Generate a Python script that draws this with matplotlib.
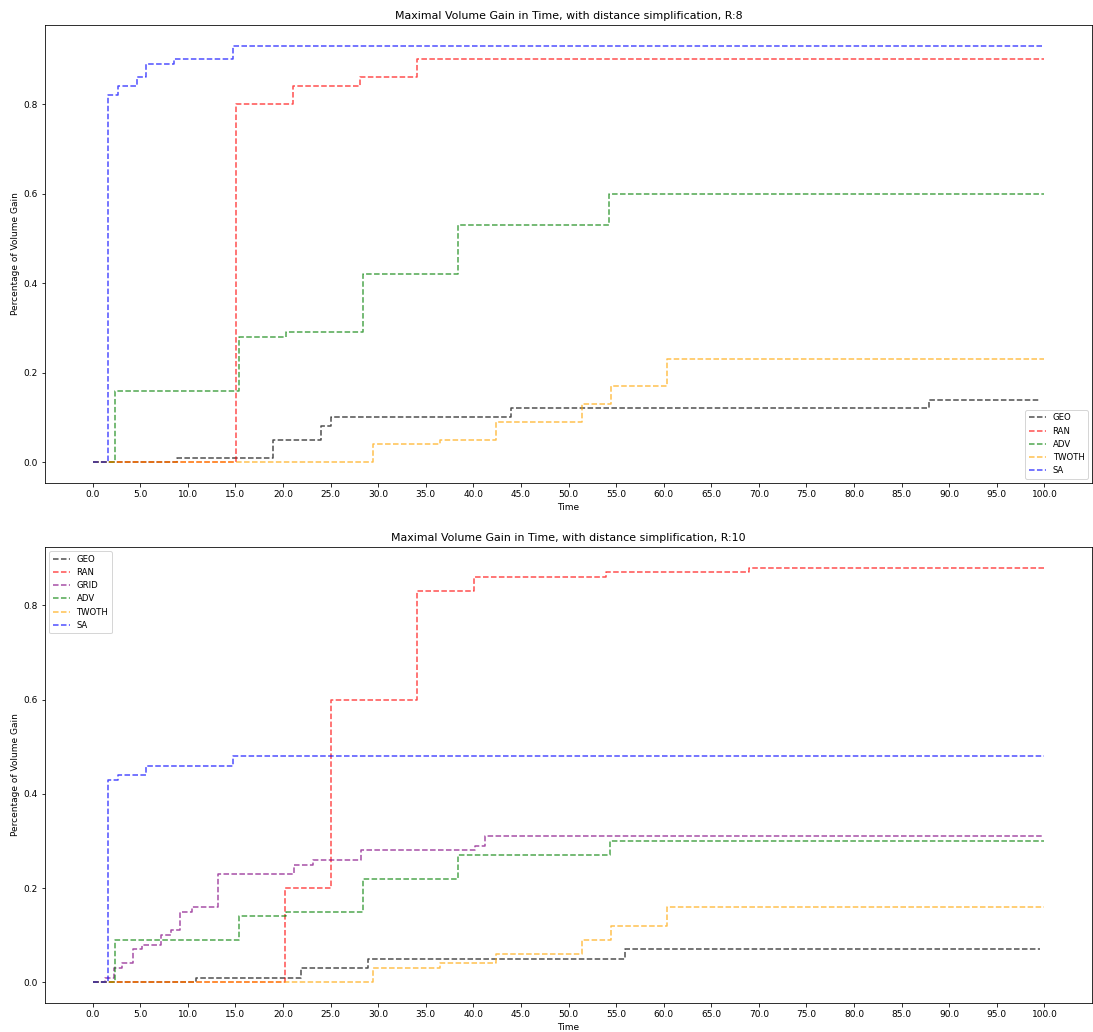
import numpy as np
import matplotlib
matplotlib.use("Agg")
import matplotlib.pyplot as plt

# ---- R:8 series (time of each improvement, best gain reached) ----
r8_geo_t = [0.0, 8.9, 19.0, 24.0, 25.0, 44.0, 87.9, 99.5]
r8_geo_v = [0.0, 0.01, 0.05, 0.08, 0.10, 0.12, 0.14, 0.14]
r8_ran_t = [0.0, 15.1, 21.1, 28.1, 34.1, 100.0]
r8_ran_v = [0.0, 0.80, 0.84, 0.86, 0.90, 0.90]
r8_adv_t = [0.0, 2.4, 15.4, 20.3, 28.4, 38.4, 54.3, 100.0]
r8_adv_v = [0.0, 0.16, 0.28, 0.29, 0.42, 0.53, 0.60, 0.60]
r8_twoth_t = [0.0, 29.5, 36.5, 42.4, 51.4, 54.5, 60.4, 100.0]
r8_twoth_v = [0.0, 0.04, 0.05, 0.09, 0.13, 0.17, 0.23, 0.23]
r8_sa_t = [0.0, 1.6, 2.7, 4.7, 5.6, 8.6, 14.7, 100.0]
r8_sa_v = [0.0, 0.82, 0.84, 0.86, 0.89, 0.90, 0.93, 0.93]

# ---- R:10 series ----
r10_geo_t = [0.0, 10.9, 21.9, 28.9, 55.9, 99.5]
r10_geo_v = [0.0, 0.01, 0.03, 0.05, 0.07, 0.07]
r10_ran_t = [0.0, 20.2, 25.1, 34.1, 40.1, 53.9, 69.0, 100.0]
r10_ran_v = [0.0, 0.20, 0.60, 0.83, 0.86, 0.87, 0.88, 0.88]
r10_grid_t = [0.0, 1.3, 2.2, 3.1, 4.2, 5.2, 7.2, 8.2, 9.2, 10.4, 13.2, 21.2, 23.2, 28.2, 40.2, 41.2, 100.0]
r10_grid_v = [0.0, 0.01, 0.03, 0.04, 0.07, 0.08, 0.10, 0.11, 0.15, 0.16, 0.23, 0.25, 0.26, 0.28, 0.29, 0.31, 0.31]
r10_adv_t = [0.0, 2.4, 15.4, 20.3, 28.4, 38.4, 54.4, 100.0]
r10_adv_v = [0.0, 0.09, 0.14, 0.15, 0.22, 0.27, 0.30, 0.30]
r10_twoth_t = [0.0, 29.5, 36.5, 42.4, 51.4, 54.5, 60.4, 100.0]
r10_twoth_v = [0.0, 0.03, 0.04, 0.06, 0.09, 0.12, 0.16, 0.16]
r10_sa_t = [0.0, 1.6, 2.7, 5.6, 14.7, 100.0]
r10_sa_v = [0.0, 0.43, 0.44, 0.46, 0.48, 0.48]

xticks = np.arange(0, 101, 5)
xtick_labels = [f"{t:.1f}" for t in xticks]

plt.rcParams["font.size"] = 9
plt.rcParams["axes.titlesize"] = 11
plt.rcParams["legend.fontsize"] = 8.5

W, H, DPI = 1093, 1032, 72
fig = plt.figure(figsize=(W / DPI, H / DPI), dpi=DPI)
ax1 = fig.add_axes([45 / W, 1 - 483 / H, 1047 / W, 458 / H])
ax2 = fig.add_axes([45 / W, 1 - 1003 / H, 1047 / W, 456 / H])

style = dict(where="post", linestyle="--", alpha=0.7, linewidth=1.5)

ax1.step(r8_geo_t, r8_geo_v, color="black", label="GEO", **style)
ax1.step(r8_ran_t, r8_ran_v, color="red", label="RAN", **style)
ax1.step(r8_adv_t, r8_adv_v, color="green", label="ADV", **style)
ax1.step(r8_twoth_t, r8_twoth_v, color="orange", label="TWOTH", **style)
ax1.step(r8_sa_t, r8_sa_v, color="blue", label="SA", **style)
ax1.set_title("Maximal Volume Gain in Time, with distance simplification, R:8")
ax1.legend(loc="lower right")

ax2.step(r10_geo_t, r10_geo_v, color="black", label="GEO", **style)
ax2.step(r10_ran_t, r10_ran_v, color="red", label="RAN", **style)
ax2.step(r10_grid_t, r10_grid_v, color="purple", label="GRID", **style)
ax2.step(r10_adv_t, r10_adv_v, color="green", label="ADV", **style)
ax2.step(r10_twoth_t, r10_twoth_v, color="orange", label="TWOTH", **style)
ax2.step(r10_sa_t, r10_sa_v, color="blue", label="SA", **style)
ax2.set_title("Maximal Volume Gain in Time, with distance simplification, R:10")
ax2.legend(loc="upper left")

for ax in (ax1, ax2):
    ax.set_xticks(xticks)
    ax.set_xticklabels(xtick_labels)
    ax.set_xlabel("Time")
    ax.set_ylabel("Percentage of Volume Gain")

fig.savefig("out.png", dpi=DPI)
